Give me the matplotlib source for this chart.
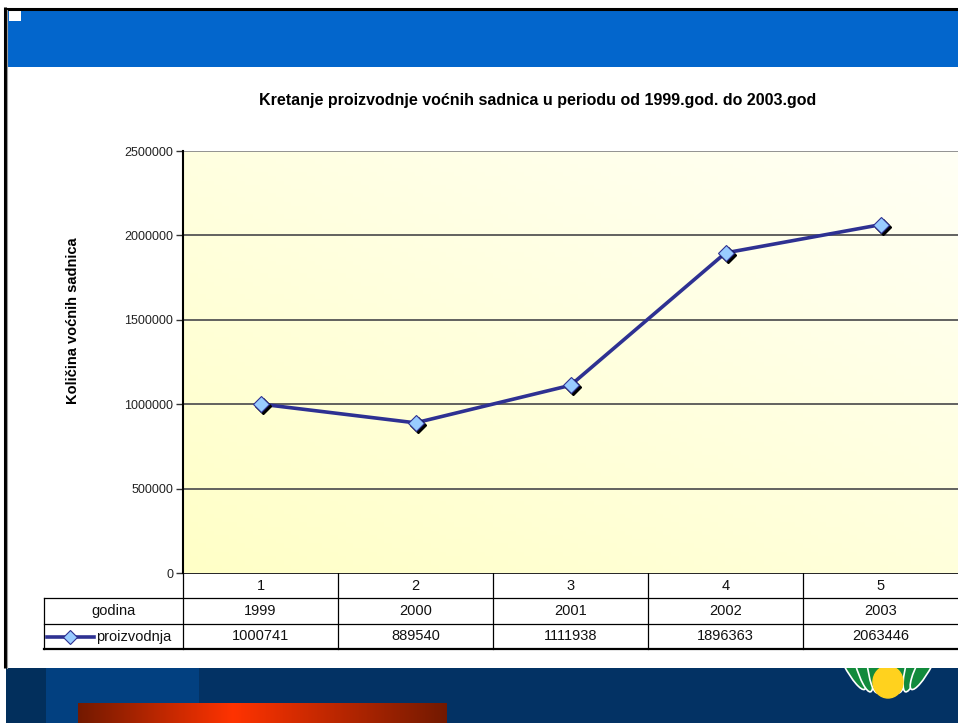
"""Kretanje proizvodnje vocnih sadnica 1999-2003 (slide with chart + data table)."""

import numpy as np
import matplotlib
matplotlib.use("Agg")
import matplotlib.pyplot as plt
from matplotlib.patches import Rectangle, Ellipse
from matplotlib import transforms

plt.rcParams["font.family"] = ["Liberation Sans", "DejaVu Sans"]

categories = [1, 2, 3, 4, 5]
years = ["1999", "2000", "2001", "2002", "2003"]
production = [1000741, 889540, 1111938, 1896363, 2063446]
y_ticks = [0, 500000, 1000000, 1500000, 2000000, 2500000]

W, H = 958, 723
PL, PR, PT, PB = 183, 958, 151, 573   # plot area in pixels
ROW_H = [573, 598, 624, 649]           # table row boundaries
TBL_LEFT = 44

fig = plt.figure(figsize=(W / 100, H / 100), dpi=100)
fig.patch.set_facecolor("white")

# slide background drawn in pixel coordinates
bg = fig.add_axes([0, 0, 1, 1], zorder=0)
bg.set_xlim(0, W)
bg.set_ylim(H, 0)
bg.axis("off")

bg.add_patch(Rectangle((6, 10), W, 57, color="#0366cc", lw=0))
bg.add_patch(Rectangle((9, 10), 12, 11, color="white", lw=0))
bg.plot([4, W], [8.5, 8.5], color="black", lw=2.2, solid_capstyle="butt")
bg.plot([5.5, 5.5], [7, 668], color="black", lw=2.2, solid_capstyle="butt")
bg.plot([7.5, 7.5], [10, 668], color="#9a9a9a", lw=0.8)

# bottom band
bg.add_patch(Rectangle((6, 668), W, 60, color="#033264", lw=0))
bg.add_patch(Rectangle((6, 668), 40, 60, color="#022f5c", lw=0))
bg.add_patch(Rectangle((46, 668), 153, 60, color="#024080", lw=0))
grad = np.interp(np.linspace(0, 1, 300), [0, 0.42, 1], [0, 1, 0])
c0, c1 = np.array([0.45, 0.10, 0.0]), np.array([1.0, 0.2, 0.0])
red = c0 + grad[:, None] * (c1 - c0)
bg.imshow(red[None, :, :], extent=[78, 447, 723, 703], aspect="auto", zorder=2)

# logo (clipped to the band)
clip = Rectangle((800, 668), 158, 55, transform=bg.transData, visible=False)
bg.add_patch(clip)
for dx, ang in [(-38, -28), (-26, -16), (-14, -6), (14, 6), (26, 16), (38, 28)]:
    e = Ellipse((888 + dx, 662), 14, 62, angle=ang, facecolor="#128a3c",
                edgecolor="white", lw=1.2, zorder=3)
    bg.add_patch(e)
    e.set_clip_path(clip)
sun = Ellipse((888, 682), 30, 32, color="#ffd21e", zorder=4)
bg.add_patch(sun)
sun.set_clip_path(clip)

# title and y label
bg.text(538, 101, "Kretanje proizvodnje voćnih sadnica u periodu od 1999.god. do 2003.god",
        ha="center", va="center", fontsize=11.5, fontweight="bold")
bg.text(73, 321, "Količina voćnih sadnica", rotation=90, ha="center", va="center",
        fontsize=10.5, fontweight="bold")

# chart
ax = fig.add_axes([PL / W, 1 - PB / H, (PR - PL) / W, (PB - PT) / H], zorder=1)
ax.set_xlim(0.5, 5.5)
ax.set_ylim(0, 2500000)

gy, gx = np.mgrid[0:1:100j, 0:1:100j]
t = np.clip(0.55 * gy + 0.45 * gx, 0, 1)
lo, hi = np.array([1.0, 1.0, 0.78]), np.array([1.0, 1.0, 0.96])
img = lo + t[..., None] * (hi - lo)
ax.imshow(img, extent=[0, 1, 0, 1], transform=ax.transAxes, aspect="auto",
          origin="lower", zorder=0)

for v in y_ticks[1:]:
    ax.axhline(v, color="#555555" if v < 2500000 else "#8a8a8a", lw=1.3, zorder=1)

shadow = transforms.offset_copy(ax.transData, fig=fig, x=2, y=-2, units="dots")
ax.plot(categories, production, color="#2e3192", lw=2.6, zorder=3)
ax.plot(categories, production, ls="none", marker="D", ms=8, mfc="black",
        mec="black", transform=shadow, zorder=4)
ax.plot(categories, production, ls="none", marker="D", ms=8, mfc="#99ccff",
        mec="#2e3192", mew=0.8, zorder=5)

ax.set_yticks(y_ticks)
ax.set_yticklabels([str(v) for v in y_ticks], fontsize=9, color="#222222")
ax.tick_params(axis="y", direction="out", length=5, width=1, pad=2, color="#333333")
ax.set_xticks([])
for s in ("top", "right", "bottom"):
    ax.spines[s].set_visible(False)
ax.spines["left"].set_linewidth(1.5)

# data table under the plot
col_w = (PR - PL) / len(categories)
bounds = [PL + i * col_w for i in range(len(categories) + 1)]
for x in bounds[:-1]:
    bg.plot([x, x], [ROW_H[0], ROW_H[3]], color="black", lw=0.9)
bg.plot([TBL_LEFT, TBL_LEFT], [ROW_H[1], ROW_H[3]], color="black", lw=0.9)
bg.plot([PL, W], [ROW_H[0], ROW_H[0]], color="black", lw=1.2)
bg.plot([TBL_LEFT, W], [ROW_H[1], ROW_H[1]], color="black", lw=0.9)
bg.plot([TBL_LEFT, W], [ROW_H[2], ROW_H[2]], color="black", lw=0.9)
bg.plot([TBL_LEFT, W], [ROW_H[3], ROW_H[3]], color="black", lw=1.6)

rows = [[str(c) for c in categories], years, [str(v) for v in production]]
for r, vals in enumerate(rows):
    yc = (ROW_H[r] + ROW_H[r + 1]) / 2
    for i, v in enumerate(vals):
        bg.text((bounds[i] + bounds[i + 1]) / 2, yc, v, ha="center", va="center",
                fontsize=10.5, color="#111111")
bg.text((TBL_LEFT + PL) / 2, (ROW_H[1] + ROW_H[2]) / 2, "godina", ha="center",
        va="center", fontsize=10.5, color="#111111")
ky = (ROW_H[2] + ROW_H[3]) / 2
bg.plot([47, 94], [ky, ky], color="#2e3192", lw=2.6)
bg.plot([70.5], [ky], marker="D", ms=7, mfc="#99ccff", mec="#2e3192", mew=0.8)
bg.text(96, ky, "proizvodnja", ha="left", va="center", fontsize=10.5, color="#111111")

fig.savefig("out.png", dpi=100)
